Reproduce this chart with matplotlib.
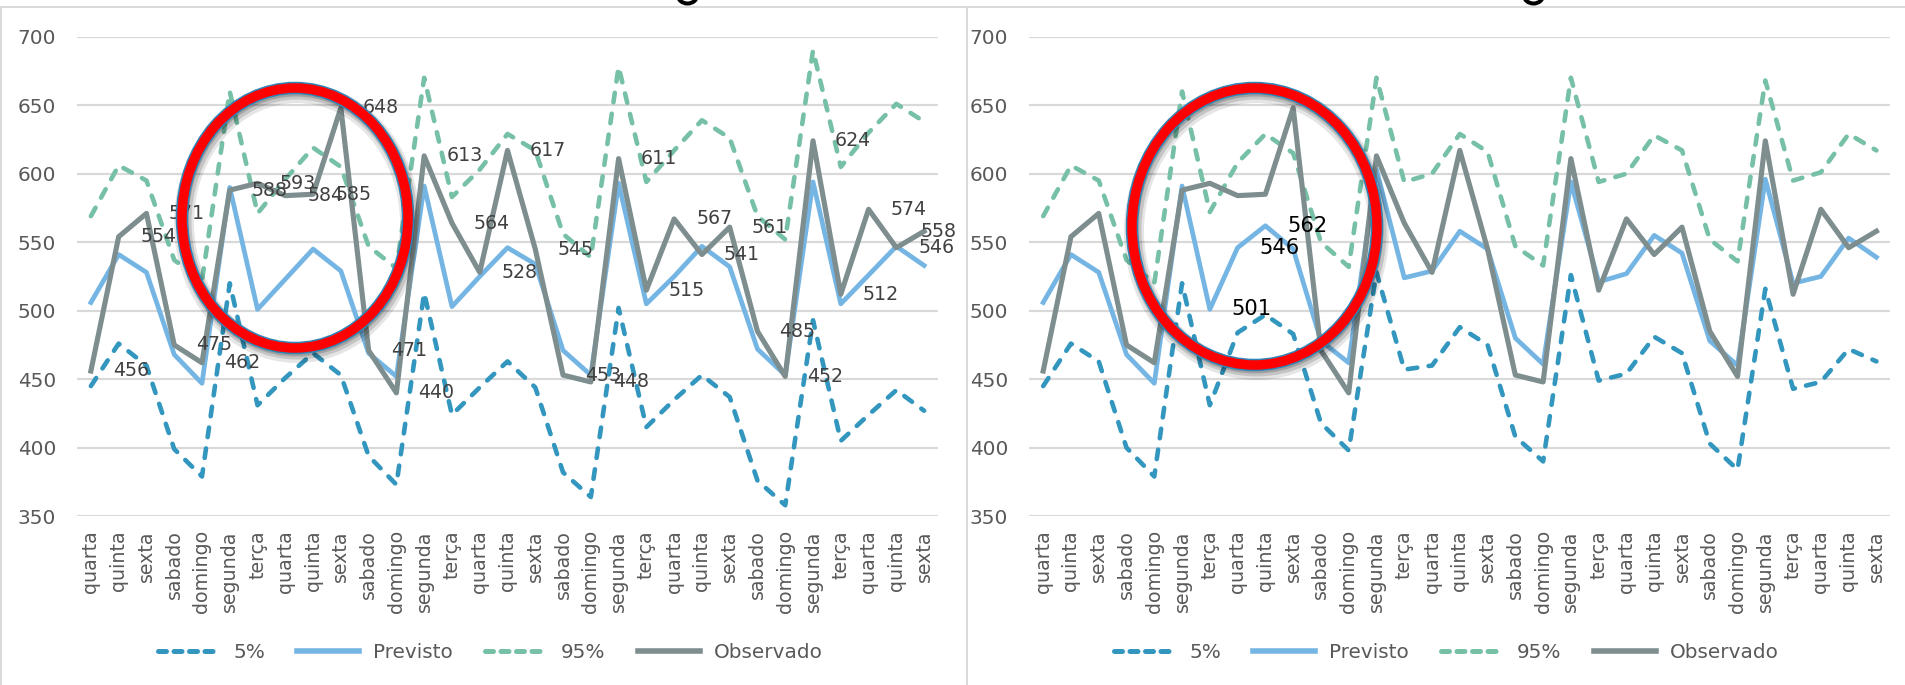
import matplotlib
matplotlib.use("Agg")
import matplotlib.pyplot as plt
from matplotlib.patches import Ellipse
from matplotlib.lines import Line2D

# ---------------- data ----------------
days = ['quarta', 'quinta', 'sexta', 'sabado', 'domingo', 'segunda', 'terça',
        'quarta', 'quinta', 'sexta', 'sabado', 'domingo', 'segunda', 'terça',
        'quarta', 'quinta', 'sexta', 'sabado', 'domingo', 'segunda', 'terça',
        'quarta', 'quinta', 'sexta', 'sabado', 'domingo', 'segunda', 'terça',
        'quarta', 'quinta', 'sexta']

observado = [456, 554, 571, 475, 462, 588, 593, 584, 585, 648, 471, 440, 613, 564, 528, 617,
             545, 453, 448, 611, 515, 567, 541, 561, 485, 452, 624, 512, 574, 546, 558]

p5_left = [445, 476, 460, 399, 379, 520, 431, 451, 469, 453, 394, 373, 513, 424, 444, 463,
           444, 382, 364, 502, 415, 435, 453, 437, 376, 358, 493, 405, 424, 442, 427]
prev_left = [506, 541, 528, 468, 447, 590, 501, 523, 545, 529, 469, 452, 591, 503, 525, 546,
             534, 471, 453, 593, 505, 525, 547, 532, 472, 453, 594, 505, 526, 547, 533]
p95_left = [569, 606, 595, 537, 522, 660, 571, 596, 619, 605, 547, 531, 670, 583, 603, 629,
            617, 556, 539, 678, 594, 617, 639, 626, 569, 552, 690, 605, 630, 651, 638]

p5_right = [445, 476, 463, 400, 379, 520, 431, 484, 497, 483, 418, 398, 528, 457, 460, 488,
            475, 408, 390, 526, 449, 454, 481, 469, 403, 384, 516, 443, 448, 472, 463]
prev_right = [506, 541, 528, 468, 447, 591, 501, 546, 562, 545, 478, 462, 603, 524, 529, 558,
              545, 480, 461, 594, 521, 527, 555, 542, 478, 460, 596, 520, 525, 553, 539]
p95_right = [569, 606, 595, 537, 520, 660, 572, 608, 629, 615, 550, 532, 670, 594, 600, 629,
             616, 547, 533, 670, 594, 600, 628, 617, 552, 536, 668, 595, 601, 629, 617]

left_label_idx = list(range(len(observado)))
right_label_idx = [6, 7, 8]

y_ticks = [350, 400, 450, 500, 550, 600, 650, 700]
series_names = ['5%', 'Previsto', '95%', 'Observado']

# ---------------- style ----------------
C5 = '#3296BE'
CPREV = '#74B5E4'
C95 = '#76C0A6'
COBS = '#7E8D8E'
GRID = '#D9D9D9'
TXT = '#595959'

W, H = 1905, 685
DPI = 100
plt.rcParams['font.family'] = ['DejaVu Sans']

fig = plt.figure(figsize=(W / DPI, H / DPI), dpi=DPI)
fig.patch.set_facecolor('white')


def px(v):
    return v * 72.0 / DPI


def draw_chart(left_px, p5, prev, p95, label_vals, labels_idx, label_color, label_size, legend_cx):
    top_px, bottom_px, width_px = 36.7, 516.2, 861
    ax = fig.add_axes([left_px / W, (H - bottom_px) / H, width_px / W, (bottom_px - top_px) / H])
    x = list(range(len(days)))
    dash = dict(linestyle=(0, (2.1, 2.5)), dash_capstyle='round', lw=3.3)
    ax.plot(x, p5, color=C5, solid_joinstyle='round', zorder=3, **dash)
    ax.plot(x, prev, color=CPREV, lw=3.4, solid_joinstyle='round', zorder=4)
    ax.plot(x, p95, color=C95, solid_joinstyle='round', zorder=5, **dash)
    ax.plot(x, observado, color=COBS, lw=3.7, solid_joinstyle='round', zorder=6)
    ax.set_xlim(-0.5, len(days) - 0.5)
    ax.set_ylim(350, 700)
    ax.set_yticks(y_ticks)
    ax.set_xticks(x)
    ax.set_xticklabels(days, rotation=90, fontsize=px(19), color=TXT)
    ax.tick_params(axis='x', length=0, pad=px(14))
    ax.tick_params(axis='y', length=0, pad=px(21), labelsize=px(20), labelcolor=TXT)
    for s in ax.spines.values():
        s.set_visible(False)
    ax.grid(axis='y', color=GRID, lw=px(2.2), zorder=0)
    ax.set_axisbelow(True)
    ax.patch.set_alpha(0)

    # data labels (to the right of each point; the last one is kept inside the chart)
    n = len(days)
    for i in labels_idx:
        v = label_vals[i]
        off = 22 if i < n - 1 else -4
        ax.annotate(str(v), xy=(i, v), xytext=(off, 0), textcoords='offset pixels',
                    ha='left', va='center', fontsize=label_size, color=label_color, zorder=8)

    handles = [Line2D([], [], color=C5, lw=3.6, linestyle=(0, (1.6, 1.5)), dash_capstyle='round'),
               Line2D([], [], color=CPREV, lw=4.0),
               Line2D([], [], color=C95, lw=3.6, linestyle=(0, (1.6, 1.5)), dash_capstyle='round'),
               Line2D([], [], color=COBS, lw=4.0)]
    fig.legend(handles, series_names, loc='center', ncol=4, frameon=False,
               bbox_to_anchor=(legend_cx / W, (H - 652) / H),
               fontsize=px(20), handlelength=3.1, handletextpad=0.7,
               columnspacing=1.6, labelcolor=TXT)
    return ax


ax1 = draw_chart(77, p5_left, prev_left, p95_left, observado, left_label_idx,
                 '#404040', px(19), 490)
ax2 = draw_chart(1029.3, p5_right, prev_right, p95_right, prev_right, right_label_idx,
                 'black', px(21), 1446)

# ---------------- overlay: borders, clipped title remnant, highlight circles ----------------
ov = fig.add_axes([0, 0, 1, 1], zorder=20)
ov.set_xlim(0, W)
ov.set_ylim(H, 0)
ov.axis('off')
ov.patch.set_alpha(0)

ov.plot([0, W], [7, 7], color=GRID, lw=px(2))
ov.plot([1, 1], [7, H], color=GRID, lw=px(2))
ov.plot([967, 967], [7, H], color=GRID, lw=px(2))

# bottom of the (cut-off) title glyphs peeking in at the top edge
for cx in (687.5, 1533.5):
    ov.add_patch(Ellipse((cx, -4.5), 19, 16, fill=False, ec='black', lw=px(4)))


def highlight(cx, cy, w, h):
    for dx, dy, a, lw in [(2, 5, 0.10, 20), (2, 4, 0.14, 15), (1, 3, 0.18, 11)]:
        ov.add_patch(Ellipse((cx + dx, cy + dy), w, h, fill=False, ec='black',
                             lw=px(lw), alpha=a))
    ov.add_patch(Ellipse((cx, cy), w, h, fill=False, ec='#2E86B8', lw=px(12.5)))
    ov.add_patch(Ellipse((cx, cy), w, h, fill=False, ec='#FF0000', lw=px(9.5)))


highlight(295, 218, 226, 260)
highlight(1254.5, 226.5, 245, 277)

fig.savefig('out.png', dpi=DPI, facecolor='white')
